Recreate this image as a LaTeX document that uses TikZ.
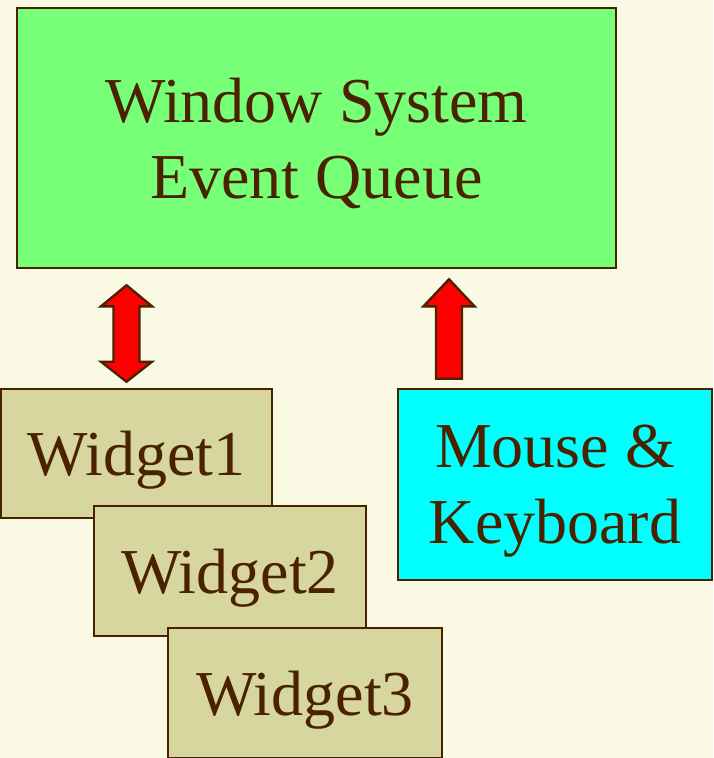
\documentclass[tikz,border=0pt]{standalone}
\usepackage{fontspec}
\setmainfont{Liberation Serif}
\usetikzlibrary{calc}
\definecolor{bgcream}{HTML}{FAFAE4}
\definecolor{edgebrown}{HTML}{4A2200}
\definecolor{queuegreen}{HTML}{77FF77}
\definecolor{widgetkhaki}{HTML}{D6D69E}
\definecolor{devcyan}{HTML}{00FFFF}
\definecolor{arrowred}{HTML}{FF0000}
\tikzset{
  box/.style={draw=edgebrown, line width=2.6pt, inner sep=0pt, align=center,
    text=edgebrown, text depth=0pt, font=\fontsize{64}{76}\selectfont},
  fatarrow/.style={draw=edgebrown, line width=2.4pt, fill=arrowred, line join=miter}
}
\begin{document}
\begin{tikzpicture}[x=1pt,y=-1pt]
  \useasboundingbox (0,0) rectangle (713,758);
  \clip (0,0) rectangle (713,758);
  \fill[bgcream] (0,0) rectangle (713,758);

  % boxes
  \node[box, fill=queuegreen, minimum width=599pt, minimum height=260pt]
    (queue) at (316.5,138) {Window System\\Event Queue};
  \node[box, fill=widgetkhaki, minimum width=271pt, minimum height=129pt]
    (w1) at (136.5,453.5) {Widget1};
  \node[box, fill=widgetkhaki, minimum width=272pt, minimum height=130pt]
    (w2) at (230,571) {Widget2};
  \node[box, fill=widgetkhaki, minimum width=274pt, minimum height=130pt]
    (w3) at (305,693) {Widget3};
  \node[box, fill=devcyan, minimum width=314pt, minimum height=191pt]
    (dev) at (555,484.5) {Mouse \&\\Keyboard};

  % two-headed arrow between the queue and Widget1
  \coordinate (dtop) at ([yshift=-16pt]queue.south -| 126.5,0);
  \coordinate (dbot) at ([yshift=6pt]w1.north -| 126.5,0);
  \draw[fatarrow]
    (dtop) -- ++(25.5,21) -- ++(-12.5,0) -- ($(dbot)+(13,-20)$)
    -- ++(12.5,0) -- (dbot) -- ++(-25.5,-20) -- ++(12.5,0)
    -- ($(dtop)+(-13,21)$) -- ++(-12.5,0) -- cycle;

  % one-headed arrow from the devices up to the queue
  \coordinate (utop) at ([yshift=-10pt]queue.south -| 449,0);
  \coordinate (ubot) at ([yshift=9pt]dev.north -| 449,0);
  \draw[fatarrow]
    (utop) -- ++(25.5,27) -- ++(-12.5,0) -- ($(ubot)+(13,0)$)
    -- ($(ubot)+(-13,0)$) -- ($(utop)+(-13,27)$) -- ++(-12.5,0) -- cycle;
\end{tikzpicture}
\end{document}
